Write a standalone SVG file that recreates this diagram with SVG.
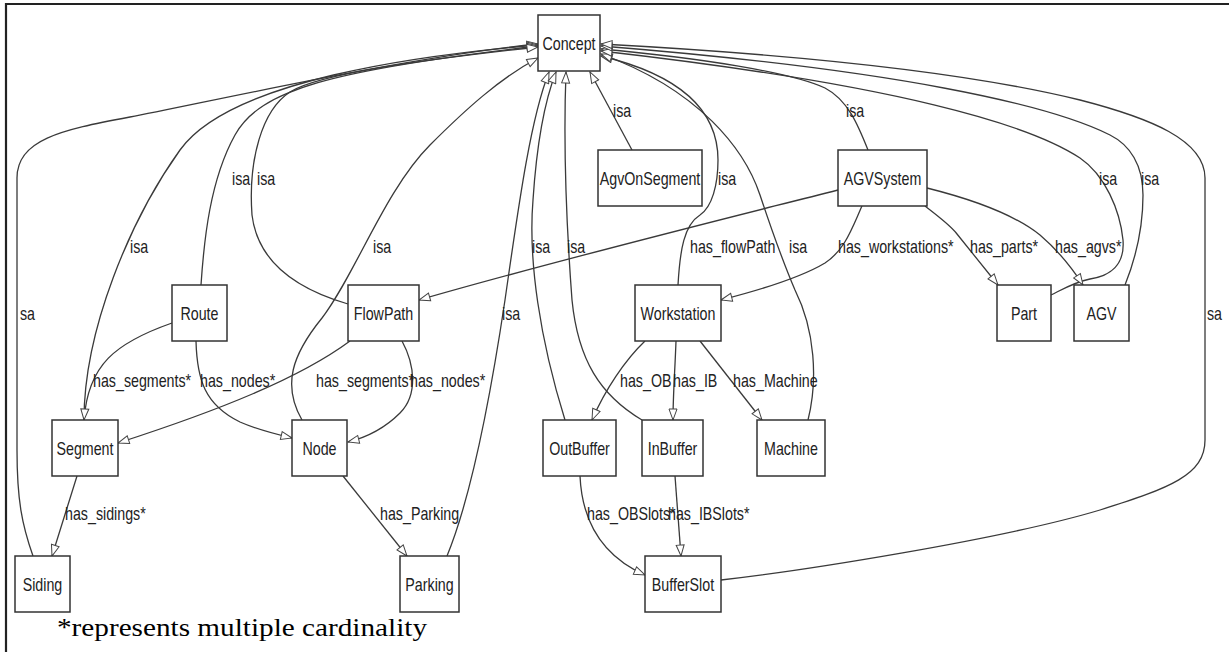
<svg xmlns="http://www.w3.org/2000/svg" width="1229" height="652" viewBox="0 0 1229 652">
<style>
.nb{fill:#fff;stroke:#333;stroke-width:1.5}
.nt{font-family:"Liberation Sans",Arial,sans-serif;font-size:19px;fill:#222;text-anchor:middle}
.el{font-family:"Liberation Sans",Arial,sans-serif;font-size:19px;fill:#222}
.e{fill:none;stroke:#3a3a3a;stroke-width:1.3;marker-end:url(#ah)}
.cap{font-family:"Liberation Serif","Times New Roman",serif;font-size:26px;fill:#000}
</style>
<defs>
<marker id="ah" markerUnits="userSpaceOnUse" markerWidth="13" markerHeight="10" viewBox="0 0 13 10" refX="12" refY="5" orient="auto">
<path d="M1,1 L12,5 L1,9 z" fill="#fff" stroke="#444" stroke-width="1"/>
</marker>
</defs>
<rect width="1229" height="652" fill="#fff"/>
<path d="M6,652 L6,4 L1229,4" fill="none" stroke="#222" stroke-width="2.2"/>

<g id="connectors">
<!-- isa edges -->
<path class="e" d="M33,556 C22,525 17,500 17,450 L17,178 C17,140 60,130 130,117 S400,58 538,44"/>
<path class="e" d="M84,420 C84,330 130,220 180,150 S420,55 538,45"/>
<path class="e" d="M201,285 C204,240 210,180 235,135 S330,70 538,46"/>
<path class="e" d="M348,304 C300,290 258,265 252,215 C248,160 262,110 290,92 S420,60 538,47"/>
<path class="e" d="M302,420 C282,385 292,355 322,318 C355,275 385,190 430,145 C465,110 500,78 538,58"/>
<path class="e" d="M447,556 C470,500 490,400 505,300 C518,210 530,120 549,72"/>
<path class="e" d="M565,420 C540,340 528,260 533,200 C537,140 545,100 556,72"/>
<path class="e" d="M642,420 C600,395 578,360 572,300 C566,220 563,150 566,72"/>
<path class="e" d="M632,150 L590,72"/>
<path class="e" d="M678,285 C680,250 684,225 700,215 C712,207 718,185 718,160 C718,110 680,75 601,56"/>
<path class="e" d="M808,420 C818,380 815,330 795,290 C780,255 770,225 760,195 C745,150 700,90 601,54"/>
<path class="e" d="M868,150 C858,125 848,100 825,88 C790,72 700,58 601,49"/>
<path class="e" d="M1051,295 C1065,288 1075,282 1090,279 C1110,276 1125,265 1123,240 C1120,210 1105,175 1080,158 C1030,125 900,85 601,51"/>
<path class="e" d="M1125,285 C1135,260 1143,230 1143,195 C1143,165 1130,145 1110,135 C1050,105 900,70 601,46"/>
<path class="e" d="M721,580 C800,571 1000,540 1100,510 C1170,488 1205,475 1205,440 L1205,178 C1205,140 1150,118 1080,100 C950,68 750,52 601,44"/>
<!-- relation edges -->
<path class="e" d="M172,323 C115,343 88,365 84,420"/>
<path class="e" d="M196,341 C197,380 205,405 240,422 C258,430 275,434 292,438"/>
<path class="e" d="M350,341 C300,378 220,410 118,443"/>
<path class="e" d="M402,341 C415,365 418,395 400,413 C385,428 368,437 348,442"/>
<path class="e" d="M838,190 C700,225 550,262 419,300"/>
<path class="e" d="M862,206 C852,228 845,250 825,263 C800,278 760,290 721,300"/>
<path class="e" d="M925,206 C940,218 950,225 957,234 L998,285"/>
<path class="e" d="M927,188 C975,200 1015,215 1040,235 C1060,252 1072,268 1083,285"/>
<path class="e" d="M645,341 C625,360 605,390 592,420"/>
<path class="e" d="M676,341 C675,370 673,395 673,420"/>
<path class="e" d="M700,341 L762,420"/>
<path class="e" d="M77,476 L52,556"/>
<path class="e" d="M343,476 L407,556"/>
<path class="e" d="M580,476 C582,520 600,555 645,575"/>
<path class="e" d="M675,476 L681,556"/>
<!-- labels -->
<text class="el" transform="translate(130,253) scale(0.75,1)">isa</text>
<text class="el" transform="translate(232,185) scale(0.75,1)">isa</text>
<text class="el" transform="translate(257,185) scale(0.75,1)">isa</text>
<text class="el" transform="translate(373,253) scale(0.75,1)">isa</text>
<text class="el" transform="translate(502,320) scale(0.75,1)">isa</text>
<text class="el" transform="translate(532,253) scale(0.75,1)">isa</text>
<text class="el" transform="translate(567,253) scale(0.75,1)">isa</text>
<text class="el" transform="translate(613,117) scale(0.75,1)">isa</text>
<text class="el" transform="translate(718,185) scale(0.75,1)">isa</text>
<text class="el" transform="translate(789,253) scale(0.75,1)">isa</text>
<text class="el" transform="translate(846,117) scale(0.75,1)">isa</text>
<text class="el" transform="translate(1099,185) scale(0.75,1)">isa</text>
<text class="el" transform="translate(1141,185) scale(0.75,1)">isa</text>
<text class="el" transform="translate(20,320) scale(0.75,1)">sa</text>
<text class="el" transform="translate(1207,320) scale(0.75,1)">sa</text>
<text class="el" transform="translate(690,253) scale(0.75,1)">has_flowPath</text>
<text class="el" transform="translate(838,253) scale(0.75,1)">has_workstations*</text>
<text class="el" transform="translate(970,253) scale(0.75,1)">has_parts*</text>
<text class="el" transform="translate(1055,253) scale(0.75,1)">has_agvs*</text>
<text class="el" transform="translate(93,387) scale(0.75,1)">has_segments*</text>
<text class="el" transform="translate(200,387) scale(0.75,1)">has_nodes*</text>
<text class="el" transform="translate(316,387) scale(0.75,1)">has_segments*</text>
<text class="el" transform="translate(410,387) scale(0.75,1)">has_nodes*</text>
<text class="el" transform="translate(620,387) scale(0.75,1)">has_OB</text>
<text class="el" transform="translate(673,387) scale(0.75,1)">has_IB</text>
<text class="el" transform="translate(733,387) scale(0.75,1)">has_Machine</text>
<text class="el" transform="translate(65,520) scale(0.75,1)">has_sidings*</text>
<text class="el" transform="translate(380,520) scale(0.75,1)">has_Parking</text>
<text class="el" transform="translate(587,520) scale(0.75,1)">has_OBSlots*</text>
<text class="el" transform="translate(668,520) scale(0.75,1)">has_IBSlots*</text>
</g>

<g id="Concept"><rect class="nb" x="538" y="15" width="62" height="56"/><text class="nt" transform="translate(569,50) scale(0.75,1)">Concept</text></g>
<g id="AgvOnSegment"><rect class="nb" x="598" y="150" width="104" height="56"/><text class="nt" transform="translate(650,185) scale(0.75,1)">AgvOnSegment</text></g>
<g id="AGVSystem"><rect class="nb" x="838" y="150" width="89" height="56"/><text class="nt" transform="translate(882.5,185) scale(0.75,1)">AGVSystem</text></g>
<g id="Route"><rect class="nb" x="172" y="285" width="55" height="56"/><text class="nt" transform="translate(199.5,320) scale(0.75,1)">Route</text></g>
<g id="FlowPath"><rect class="nb" x="348" y="285" width="71" height="56"/><text class="nt" transform="translate(383.5,320) scale(0.75,1)">FlowPath</text></g>
<g id="Workstation"><rect class="nb" x="635" y="285" width="86" height="56"/><text class="nt" transform="translate(678,320) scale(0.75,1)">Workstation</text></g>
<g id="Part"><rect class="nb" x="997" y="285" width="54" height="56"/><text class="nt" transform="translate(1024,320) scale(0.75,1)">Part</text></g>
<g id="AGV"><rect class="nb" x="1074" y="285" width="55" height="56"/><text class="nt" transform="translate(1101.5,320) scale(0.75,1)">AGV</text></g>
<g id="Segment"><rect class="nb" x="52" y="420" width="66" height="56"/><text class="nt" transform="translate(85,455) scale(0.75,1)">Segment</text></g>
<g id="Node"><rect class="nb" x="292" y="420" width="55" height="56"/><text class="nt" transform="translate(319.5,455) scale(0.75,1)">Node</text></g>
<g id="OutBuffer"><rect class="nb" x="543" y="420" width="73" height="56"/><text class="nt" transform="translate(579.5,455) scale(0.75,1)">OutBuffer</text></g>
<g id="InBuffer"><rect class="nb" x="642" y="420" width="61" height="56"/><text class="nt" transform="translate(672.5,455) scale(0.75,1)">InBuffer</text></g>
<g id="Machine"><rect class="nb" x="757" y="420" width="68" height="56"/><text class="nt" transform="translate(791,455) scale(0.75,1)">Machine</text></g>
<g id="Siding"><rect class="nb" x="15" y="556" width="55" height="56"/><text class="nt" transform="translate(42.5,591) scale(0.75,1)">Siding</text></g>
<g id="Parking"><rect class="nb" x="400" y="556" width="59" height="56"/><text class="nt" transform="translate(429.5,591) scale(0.75,1)">Parking</text></g>
<g id="BufferSlot"><rect class="nb" x="645" y="556" width="76" height="56"/><text class="nt" transform="translate(683,591) scale(0.75,1)">BufferSlot</text></g>

<text class="cap" x="57" y="636" textLength="370" lengthAdjust="spacingAndGlyphs">*represents multiple cardinality</text>
</svg>
